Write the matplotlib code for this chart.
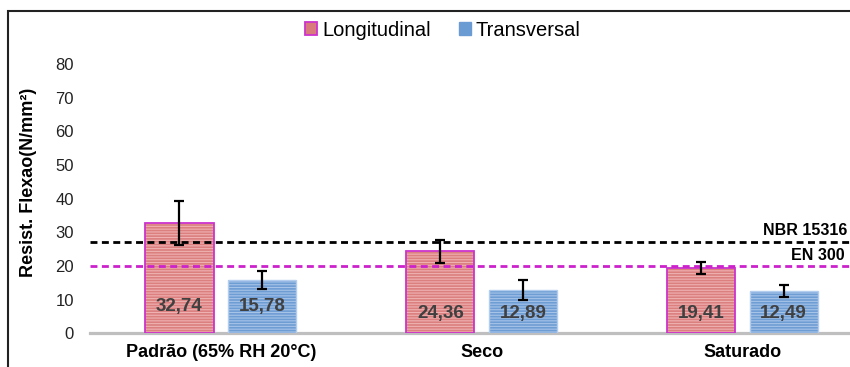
import matplotlib
matplotlib.use("Agg")
import matplotlib.pyplot as plt
from matplotlib.patches import Patch, Rectangle
import numpy as np

plt.rcParams['font.family'] = ['Liberation Sans', 'DejaVu Sans']
plt.rcParams['hatch.linewidth'] = 0.8

# data
categories = ['Padrão (65% RH 20°C)', 'Seco', 'Saturado']
longitudinal = [32.74, 24.36, 19.41]
transversal = [15.78, 12.89, 12.49]
long_err = [6.45, 3.35, 1.9]
trans_err = [2.7, 3.05, 1.8]
nbr_15316 = 27
en_300 = 20
yticks = [0, 10, 20, 30, 40, 50, 60, 70, 80]
label_heights = [8.0, 6.0, 6.0]  # where the value labels sit inside the bars

fig = plt.figure(figsize=(8.5, 3.67), dpi=100)
ax = fig.add_axes([0.1064, 0.0918, 0.9204, 0.7338])

x = np.arange(len(categories))
w = 0.262
off = 0.1585

# red bars: striped fill + magenta outline
ax.bar(x - off, longitudinal, w, color='#db7f7f', edgecolor='#efb1b1',
       hatch='------', linewidth=0, zorder=2)
ax.bar(x - off, longitudinal, w, fill=False, edgecolor='#cc33cc',
       linewidth=1.3, zorder=3)
# blue bars
ax.bar(x + off, transversal, w, color='#6e9dd4', edgecolor='#a6c3e8',
       hatch='------', linewidth=0, zorder=2)
ax.bar(x + off, transversal, w, fill=False, edgecolor='#b3cdee',
       linewidth=1.0, zorder=3)

ax.errorbar(x - off, longitudinal, yerr=long_err, fmt='none', ecolor='black',
            elinewidth=1.6, capsize=3.6, capthick=1.6, zorder=5)
ax.errorbar(x + off, transversal, yerr=trans_err, fmt='none', ecolor='black',
            elinewidth=1.6, capsize=3.6, capthick=1.6, zorder=5)

for i in range(len(categories)):
    ax.text(x[i] - off, label_heights[i], f'{longitudinal[i]:.2f}'.replace('.', ','),
            ha='center', va='center', fontsize=13.5, fontweight='bold',
            color='#404040', zorder=6)
    ax.text(x[i] + off, label_heights[i], f'{transversal[i]:.2f}'.replace('.', ','),
            ha='center', va='center', fontsize=13.5, fontweight='bold',
            color='#404040', zorder=6)

# reference lines
ax.axhline(nbr_15316, color='black', lw=2, ls=(0, (2.5, 1.6)), zorder=4)
ax.axhline(en_300, color='#cc22cc', lw=2, ls=(0, (2.5, 1.6)), zorder=4)
ax.annotate('NBR 15316', xy=(847 / 850, nbr_15316), xycoords=('figure fraction', 'data'),
            xytext=(0, 3), textcoords='offset points', ha='right', va='bottom',
            fontsize=11.5, fontweight='bold', annotation_clip=False)
ax.annotate('EN 300', xy=(845 / 850, en_300), xycoords=('figure fraction', 'data'),
            xytext=(0, 2.5), textcoords='offset points', ha='right', va='bottom',
            fontsize=11.5, fontweight='bold', annotation_clip=False)

# baseline
ax.axhline(0, color='#bfbfbf', lw=2.3, zorder=1, clip_on=False)

ax.set_xlim(-0.5, 2.5)
ax.set_ylim(0, 80)
ax.set_yticks(yticks)
ax.set_xticks(x)
ax.set_xticklabels(categories, fontsize=13, fontweight='bold')
ax.tick_params(axis='y', length=0, pad=12, labelsize=12, labelcolor='#222222')
ax.tick_params(axis='x', length=0, pad=8)
for s in ax.spines.values():
    s.set_visible(False)

ax.set_ylabel('Resist. Flexao(N/mm²)', fontsize=13, fontweight='bold')
ax.yaxis.set_label_coords(-0.0683, 0.562)

handles = [Patch(facecolor='#d97b7b', edgecolor='#cc33cc', lw=1.3),
           Patch(facecolor='#6b9bd3', edgecolor='#6b9bd3')]
fig.legend(handles, ['Longitudinal', 'Transversal'], loc='center',
           bbox_to_anchor=(0.521, 0.918), ncol=2, frameon=False, fontsize=14.5,
           handlelength=0.6, handleheight=0.6, handletextpad=0.25,
           columnspacing=1.4)

# chart border (cut off by the crop on the right and bottom)
fig.patches.append(Rectangle((8 / 850, -0.2), 1.2, 1.2 - 11 / 367,
                             transform=fig.transFigure, fill=False,
                             edgecolor='#222222', lw=1.5))

fig.savefig('out.png', dpi=100)
